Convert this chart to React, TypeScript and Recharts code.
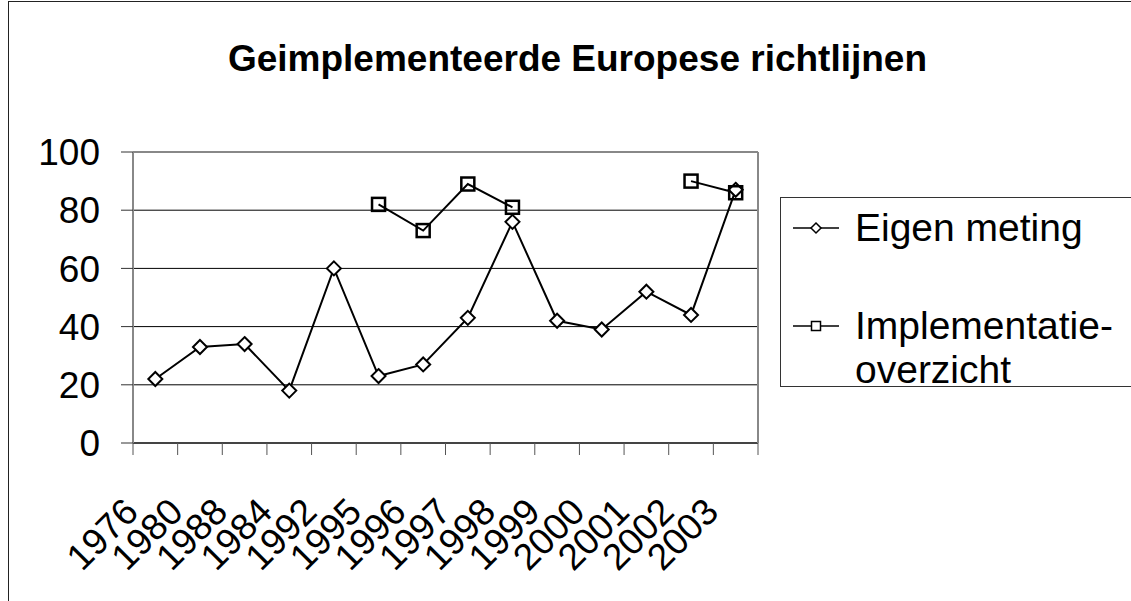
import React from "react";
import {
  LineChart,
  Line,
  XAxis,
  YAxis,
  CartesianGrid,
  Legend,
  ReferenceLine,
} from "recharts";

const years = ["1976", "1980", "1988", "1984", "1992", "1995", "1996", "1997", "1998", "1999", "2000", "2001", "2002", "2003"];
const eigenMeting = [22, 33, 34, 18, 60, 23, 27, 43, 76, 42, 39, 52, 44, 87];
const implementatie = [null, null, null, null, null, 82, 73, 89, 81, null, null, null, 90, 86];
const yTicks = [0, 20, 40, 60, 80, 100];

const data = years.map((year, i) => ({
  year,
  eigen: eigenMeting[i],
  impl: implementatie[i],
}));

const FONT = '"Liberation Sans", Arial, sans-serif';
const W = 1131;
const H = 601;
const PLOT_LEFT = 133;
const PLOT_RIGHT = 758;
const BAND = (PLOT_RIGHT - PLOT_LEFT) / years.length;

const DiamondDot = (props: any) => {
  const { cx, cy, value, index } = props;
  if (value == null || cy == null) return <g key={`d-${index}`} />;
  const r = 7;
  return (
    <polygon
      key={`d-${index}`}
      points={`${cx},${cy - r} ${cx + r},${cy} ${cx},${cy + r} ${cx - r},${cy}`}
      fill="#fff"
      stroke="#000"
      strokeWidth={2}
    />
  );
};

const SquareDot = (props: any) => {
  const { cx, cy, value, index } = props;
  if (value == null || cy == null) return <g key={`s-${index}`} />;
  const r = 6.5;
  return (
    <rect
      key={`s-${index}`}
      x={cx - r}
      y={cy - r}
      width={r * 2}
      height={r * 2}
      fill="none"
      stroke="#000"
      strokeWidth={2.5}
    />
  );
};

// tick marks sit on the band edges, labels hang off the category centre
const XTick = (props: any) => {
  const { x, y, payload, index } = props;
  const half = BAND / 2;
  const ax = x - 15;
  const ay = y + 71;
  return (
    <g>
      <line x1={x - half} y1={y} x2={x - half} y2={y + 12} stroke="#555" />
      {index === years.length - 1 && (
        <line x1={x + half} y1={y} x2={x + half} y2={y + 12} stroke="#555" />
      )}
      <text
        x={ax}
        y={ay}
        transform={`rotate(-45, ${ax}, ${ay})`}
        textAnchor="end"
        fontSize={37}
        fontFamily={FONT}
        fill="#000"
      >
        {payload.value}
      </text>
    </g>
  );
};

const legendItem = (label: string[], marker: "diamond" | "square") => (
  <div style={{ display: "flex", alignItems: "flex-start", marginBottom: 14 }}>
    <svg width={62} height={44} style={{ flex: "none" }}>
      <line x1={12} y1={22} x2={58} y2={22} stroke="#000" strokeWidth={1.5} />
      {marker === "diamond" ? (
        <polygon points="35,17 40,22 35,27 30,22" fill="#fff" stroke="#000" strokeWidth={1.5} />
      ) : (
        <rect x={30.5} y={17.5} width={9} height={9} fill="#fff" stroke="#000" strokeWidth={1.5} />
      )}
    </svg>
    <div style={{ fontSize: 39, lineHeight: "44px", marginLeft: 12 }}>
      {label.map((l) => (
        <div key={l}>{l}</div>
      ))}
    </div>
  </div>
);

const renderLegend = () => (
  <div
    style={{
      fontFamily: FONT,
      color: "#000",
      border: "1px solid #333",
      borderRight: "none",
      width: 360,
      height: 190,
      boxSizing: "border-box",
      paddingTop: 8,
      textAlign: "left",
    }}
  >
    {legendItem(["Eigen meting"], "diamond")}
    <div style={{ height: 40 }} />
    {legendItem(["Implementatie-", "overzicht"], "square")}
  </div>
);

export default function App() {
  return (
    <div style={{ position: "absolute", left: 0, top: 0, width: W, height: H, overflow: "hidden", background: "#fff" }}>
      <div
        style={{
          position: "absolute",
          left: 8,
          top: 1,
          width: W,
          height: H,
          border: "1.5px solid #222",
        }}
      />
      <div
        style={{
          position: "absolute",
          left: 0,
          top: 38,
          width: 1155,
          textAlign: "center",
          fontFamily: FONT,
          fontWeight: "bold",
          fontSize: 37,
          color: "#000",
        }}
      >
        Geimplementeerde Europese richtlijnen
      </div>
      <div style={{ position: "absolute", left: 0, top: 0 }}>
        <LineChart
          width={W}
          height={H}
          data={data}
          margin={{ top: 152, right: 0, bottom: 0, left: 0 }}
        >
          <CartesianGrid vertical={false} stroke="#000" strokeWidth={1} />
          <XAxis
            dataKey="year"
            height={158}
            padding={{ left: BAND / 2, right: BAND / 2 }}
            tickLine={false}
            tickSize={0}
            tickMargin={0}
            interval={0}
            axisLine={{ stroke: "#444", strokeWidth: 2 }}
            tick={<XTick />}
          />
          <YAxis
            width={PLOT_LEFT}
            domain={[0, 100]}
            ticks={yTicks}
            tickSize={12}
            tickMargin={21}
            axisLine={{ stroke: "#888", strokeWidth: 2 }}
            tickLine={{ stroke: "#333" }}
            tick={{ fontSize: 37, fontFamily: FONT, fill: "#000" }}
          />
          <YAxis
            yAxisId="frame"
            orientation="right"
            width={W - PLOT_RIGHT}
            domain={[0, 100]}
            tick={false}
            tickLine={false}
            axisLine={{ stroke: "#888", strokeWidth: 2 }}
          />
          <ReferenceLine y={100} stroke="#888" strokeWidth={2} />
          <Line
            dataKey="eigen"
            name="Eigen meting"
            stroke="#000"
            strokeWidth={2}
            dot={<DiamondDot />}
            activeDot={false}
            isAnimationActive={false}
          />
          <Line
            dataKey="impl"
            name="Implementatie-overzicht"
            stroke="#000"
            strokeWidth={2}
            dot={<SquareDot />}
            activeDot={false}
            connectNulls={false}
            isAnimationActive={false}
          />
          <Legend
            layout="horizontal"
            align="center"
            verticalAlign="middle"
            content={renderLegend}
            wrapperStyle={{ position: "absolute", left: 780, top: 197, width: 360, height: 190 }}
          />
        </LineChart>
      </div>
    </div>
  );
}
